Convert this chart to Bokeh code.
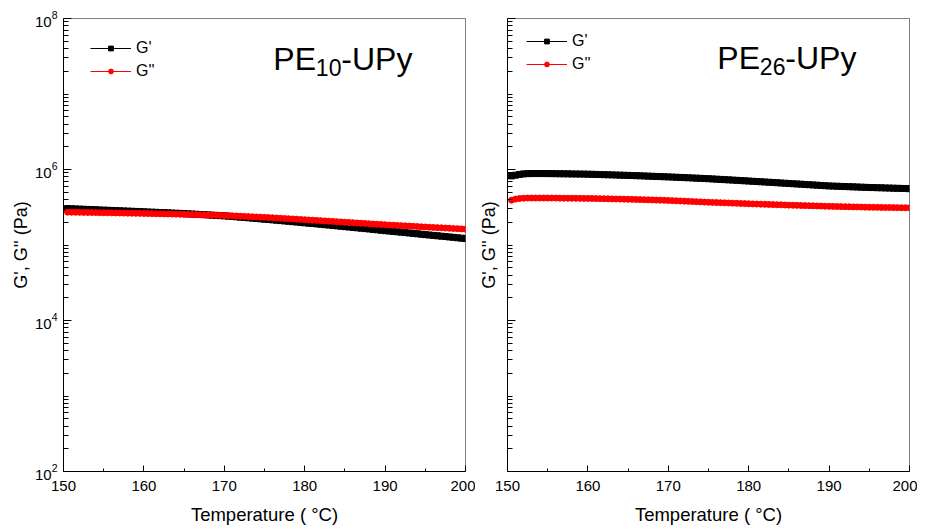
from bokeh.plotting import figure
from bokeh.layouts import row
from bokeh.models import (FixedTicker, Label, Legend, LegendItem, Range1d,
                          ColumnDataSource, CustomJSTickFormatter)
from bokeh.embed import file_html
from bokeh.resources import INLINE

# ---------------- data ----------------
temperature = [
    150.5, 151.0, 151.5, 152.0, 152.5, 153.0, 153.5, 154.0, 154.5, 155.0,
    155.5, 156.0, 156.5, 157.0, 157.5, 158.0, 158.5, 159.0, 159.5, 160.0,
    160.5, 161.0, 161.5, 162.0, 162.5, 163.0, 163.5, 164.0, 164.5, 165.0,
    165.5, 166.0, 166.5, 167.0, 167.5, 168.0, 168.5, 169.0, 169.5, 170.0,
    170.5, 171.0, 171.5, 172.0, 172.5, 173.0, 173.5, 174.0, 174.5, 175.0,
    175.5, 176.0, 176.5, 177.0, 177.5, 178.0, 178.5, 179.0, 179.5, 180.0,
    180.5, 181.0, 181.5, 182.0, 182.5, 183.0, 183.5, 184.0, 184.5, 185.0,
    185.5, 186.0, 186.5, 187.0, 187.5, 188.0, 188.5, 189.0, 189.5, 190.0,
    190.5, 191.0, 191.5, 192.0, 192.5, 193.0, 193.5, 194.0, 194.5, 195.0,
    195.5, 196.0, 196.5, 197.0, 197.5, 198.0, 198.5, 199.0, 199.5, 200.0,
]

# PE10-UPy storage modulus G' (Pa)
pe10_g1 = [
    3.034e5, 3.019e5, 3.004e5, 2.989e5, 2.973e5, 2.958e5, 2.943e5, 2.928e5, 2.912e5, 2.897e5,
    2.883e5, 2.869e5, 2.854e5, 2.840e5, 2.826e5, 2.811e5, 2.797e5, 2.783e5, 2.768e5, 2.754e5,
    2.739e5, 2.724e5, 2.710e5, 2.695e5, 2.680e5, 2.665e5, 2.650e5, 2.636e5, 2.621e5, 2.606e5,
    2.589e5, 2.571e5, 2.554e5, 2.536e5, 2.519e5, 2.502e5, 2.484e5, 2.467e5, 2.449e5, 2.432e5,
    2.409e5, 2.385e5, 2.362e5, 2.338e5, 2.315e5, 2.292e5, 2.268e5, 2.245e5, 2.221e5, 2.198e5,
    2.175e5, 2.152e5, 2.129e5, 2.106e5, 2.083e5, 2.060e5, 2.037e5, 2.014e5, 1.991e5, 1.968e5,
    1.946e5, 1.924e5, 1.903e5, 1.881e5, 1.859e5, 1.837e5, 1.815e5, 1.794e5, 1.772e5, 1.750e5,
    1.730e5, 1.710e5, 1.690e5, 1.670e5, 1.650e5, 1.629e5, 1.609e5, 1.589e5, 1.569e5, 1.549e5,
    1.531e5, 1.513e5, 1.496e5, 1.478e5, 1.460e5, 1.442e5, 1.424e5, 1.407e5, 1.389e5, 1.371e5,
    1.356e5, 1.340e5, 1.325e5, 1.309e5, 1.294e5, 1.278e5, 1.263e5, 1.247e5, 1.232e5, 1.216e5,
]

# PE10-UPy loss modulus G'' (Pa)
pe10_g2 = [
    2.723e5, 2.718e5, 2.713e5, 2.708e5, 2.703e5, 2.698e5, 2.694e5, 2.689e5, 2.684e5, 2.679e5,
    2.673e5, 2.667e5, 2.661e5, 2.655e5, 2.649e5, 2.642e5, 2.636e5, 2.630e5, 2.624e5, 2.618e5,
    2.611e5, 2.604e5, 2.597e5, 2.590e5, 2.583e5, 2.575e5, 2.568e5, 2.561e5, 2.554e5, 2.547e5,
    2.538e5, 2.530e5, 2.521e5, 2.512e5, 2.504e5, 2.495e5, 2.486e5, 2.477e5, 2.469e5, 2.460e5,
    2.446e5, 2.433e5, 2.419e5, 2.405e5, 2.392e5, 2.378e5, 2.364e5, 2.350e5, 2.337e5, 2.323e5,
    2.307e5, 2.291e5, 2.275e5, 2.259e5, 2.243e5, 2.227e5, 2.211e5, 2.195e5, 2.179e5, 2.163e5,
    2.147e5, 2.131e5, 2.115e5, 2.099e5, 2.084e5, 2.068e5, 2.052e5, 2.036e5, 2.020e5, 2.004e5,
    1.989e5, 1.974e5, 1.959e5, 1.944e5, 1.929e5, 1.914e5, 1.899e5, 1.884e5, 1.869e5, 1.854e5,
    1.842e5, 1.829e5, 1.817e5, 1.804e5, 1.792e5, 1.780e5, 1.767e5, 1.755e5, 1.742e5, 1.730e5,
    1.719e5, 1.708e5, 1.698e5, 1.687e5, 1.676e5, 1.665e5, 1.654e5, 1.644e5, 1.633e5, 1.622e5,
]

# PE26-UPy storage modulus G' (Pa)
pe26_g1 = [
    8.222e5, 8.414e5, 8.610e5, 8.750e5, 8.810e5, 8.831e5, 8.835e5, 8.835e5, 8.833e5, 8.831e5,
    8.815e5, 8.799e5, 8.783e5, 8.767e5, 8.751e5, 8.734e5, 8.718e5, 8.702e5, 8.686e5, 8.670e5,
    8.639e5, 8.607e5, 8.576e5, 8.544e5, 8.513e5, 8.482e5, 8.450e5, 8.419e5, 8.387e5, 8.356e5,
    8.318e5, 8.281e5, 8.243e5, 8.206e5, 8.168e5, 8.130e5, 8.093e5, 8.055e5, 8.018e5, 7.980e5,
    7.937e5, 7.894e5, 7.851e5, 7.808e5, 7.766e5, 7.723e5, 7.680e5, 7.637e5, 7.594e5, 7.551e5,
    7.499e5, 7.447e5, 7.395e5, 7.343e5, 7.291e5, 7.239e5, 7.187e5, 7.135e5, 7.083e5, 7.031e5,
    6.981e5, 6.931e5, 6.881e5, 6.831e5, 6.781e5, 6.731e5, 6.681e5, 6.631e5, 6.581e5, 6.531e5,
    6.483e5, 6.435e5, 6.388e5, 6.340e5, 6.292e5, 6.244e5, 6.197e5, 6.149e5, 6.101e5, 6.053e5,
    6.026e5, 5.999e5, 5.971e5, 5.944e5, 5.917e5, 5.890e5, 5.863e5, 5.835e5, 5.808e5, 5.781e5,
    5.760e5, 5.739e5, 5.718e5, 5.697e5, 5.677e5, 5.656e5, 5.635e5, 5.614e5, 5.593e5, 5.572e5,
]

# PE26-UPy loss modulus G'' (Pa)
pe26_g2 = [
    3.927e5, 4.055e5, 4.130e5, 4.169e5, 4.188e5, 4.188e5, 4.188e5, 4.188e5, 4.188e5, 4.188e5,
    4.183e5, 4.178e5, 4.174e5, 4.169e5, 4.164e5, 4.159e5, 4.154e5, 4.150e5, 4.145e5, 4.140e5,
    4.130e5, 4.119e5, 4.109e5, 4.098e5, 4.088e5, 4.078e5, 4.067e5, 4.057e5, 4.046e5, 4.036e5,
    4.022e5, 4.007e5, 3.993e5, 3.978e5, 3.964e5, 3.949e5, 3.935e5, 3.920e5, 3.906e5, 3.891e5,
    3.870e5, 3.849e5, 3.828e5, 3.807e5, 3.786e5, 3.765e5, 3.744e5, 3.723e5, 3.702e5, 3.681e5,
    3.665e5, 3.648e5, 3.632e5, 3.615e5, 3.599e5, 3.582e5, 3.566e5, 3.549e5, 3.533e5, 3.516e5,
    3.502e5, 3.487e5, 3.473e5, 3.459e5, 3.445e5, 3.430e5, 3.416e5, 3.402e5, 3.387e5, 3.373e5,
    3.361e5, 3.349e5, 3.336e5, 3.324e5, 3.312e5, 3.300e5, 3.288e5, 3.275e5, 3.263e5, 3.251e5,
    3.242e5, 3.233e5, 3.224e5, 3.215e5, 3.207e5, 3.198e5, 3.189e5, 3.180e5, 3.171e5, 3.162e5,
    3.156e5, 3.151e5, 3.145e5, 3.139e5, 3.134e5, 3.128e5, 3.122e5, 3.116e5, 3.111e5, 3.105e5,
]

x_major_ticks = [150, 160, 170, 180, 190, 200]
x_minor_ticks = [155, 165, 175, 185, 195]
y_major_ticks = [1e2, 1e4, 1e6, 1e8]
series_labels = ["G'", "G''"]
panel_names = [("PE", "10", "-UPy"), ("PE", "26", "-UPy")]

FONT = "Liberation Sans"

y_minor_ticks = [k * 10.0 ** e for e in range(2, 8) for k in range(1, 10)
                 if not (k == 1 and e % 2 == 0)]


def make_panel(g1, g2, name, width, border_left, border_right, show_y_labels,
               legend_loc, title_y):
    p = figure(width=width, height=527,
               x_range=Range1d(150, 200), y_range=Range1d(1e2, 1e8),
               y_axis_type="log", output_backend="svg", toolbar_location=None,
               min_border_left=border_left, min_border_right=border_right,
               min_border_top=18, min_border_bottom=56)
    p.xgrid.visible = False
    p.ygrid.visible = False
    p.outline_line_color = "#808080"
    p.outline_line_width = 1
    p.background_fill_color = "white"
    p.border_fill_color = "white"

    src = ColumnDataSource(dict(t=temperature, g1=g1, g2=g2))
    l1 = p.line("t", "g1", source=src, line_color="black", line_width=1)
    s1 = p.scatter("t", "g1", source=src, marker="square", size=6,
                   fill_color="black", line_color="black")
    l2 = p.line("t", "g2", source=src, line_color="#FF0000", line_width=1)
    s2 = p.scatter("t", "g2", source=src, marker="circle", size=6,
                   fill_color="#FF0000", line_color="#FF0000")

    # axes
    xa = p.xaxis[0]
    xa.ticker = FixedTicker(ticks=x_major_ticks, minor_ticks=x_minor_ticks)
    xa.major_tick_in = 6
    xa.major_tick_out = 0
    xa.minor_tick_in = 3
    xa.minor_tick_out = 0
    xa.axis_line_color = "black"
    xa.major_tick_line_color = "black"
    xa.minor_tick_line_color = "black"
    xa.major_label_text_font = FONT
    xa.major_label_text_font_size = "15px"
    xa.major_label_text_color = "black"
    xa.major_label_standoff = 9
    xa.axis_label = "Temperature ( °C)"
    xa.axis_label_text_font = FONT
    xa.axis_label_text_font_size = "18.5px"
    xa.axis_label_text_font_style = "normal"
    xa.axis_label_text_color = "black"
    xa.axis_label_standoff = 10

    ya = p.yaxis[0]
    ya.ticker = FixedTicker(ticks=y_major_ticks, minor_ticks=y_minor_ticks)
    ya.major_tick_in = 8
    ya.major_tick_out = 0
    ya.minor_tick_in = 5
    ya.minor_tick_out = 0
    ya.axis_line_color = "black"
    ya.major_tick_line_color = "black"
    ya.minor_tick_line_color = "black"
    ya.major_label_text_font = FONT
    ya.major_label_text_color = "black"
    ya.major_label_text_font_size = "15px"
    if show_y_labels:
        ya.major_label_standoff = 6
        ya.axis_label_standoff = 1
    else:
        ya.formatter = CustomJSTickFormatter(code="return ' ';")
        ya.major_label_standoff = 0
        ya.axis_label_standoff = 1
    ya.axis_label = "G', G'' (Pa)"
    ya.axis_label_text_font = FONT
    ya.axis_label_text_font_size = "18px"
    ya.axis_label_text_font_style = "normal"
    ya.axis_label_text_color = "black"

    # legend (marker swatch size follows glyph_height)
    legend = Legend(items=[LegendItem(label=series_labels[0], renderers=[l1, s1]),
                           LegendItem(label=series_labels[1], renderers=[l2, s2])],
                    location=legend_loc, orientation="vertical")
    legend.glyph_width = 41
    legend.glyph_height = 12
    legend.label_height = 20
    legend.label_standoff = 5
    legend.spacing = 3
    legend.padding = 0
    legend.margin = 0
    legend.border_line_color = None
    legend.background_fill_alpha = 0
    legend.label_text_font = FONT
    legend.label_text_font_size = "16px"
    legend.label_text_color = "black"
    p.add_layout(legend)

    # panel title with subscript
    base, sub, rest = name
    p.add_layout(Label(x=176.1, y=title_y, text=base, text_font=FONT,
                       text_font_size="32px", text_color="black",
                       text_baseline="alphabetic", text_align="left"))
    p.add_layout(Label(x=176.1, y=title_y, x_offset=42.5, y_offset=-8, text=sub,
                       text_font=FONT, text_font_size="23px", text_color="black",
                       text_baseline="alphabetic", text_align="left"))
    p.add_layout(Label(x=176.1, y=title_y, x_offset=68, text=rest, text_font=FONT,
                       text_font_size="32px", text_color="black",
                       text_baseline="alphabetic", text_align="left"))
    return p


p1 = make_panel(pe10_g1, pe10_g2, panel_names[0], 475, 63, 10, True, (27, 390), 2.87e7)
p2 = make_panel(pe26_g1, pe26_g2, panel_names[1], 442, 32, 8, False, (19, 397), 2.97e7)

layout = row(p1, p2)
open("out.html", "w").write(file_html(layout, INLINE))
